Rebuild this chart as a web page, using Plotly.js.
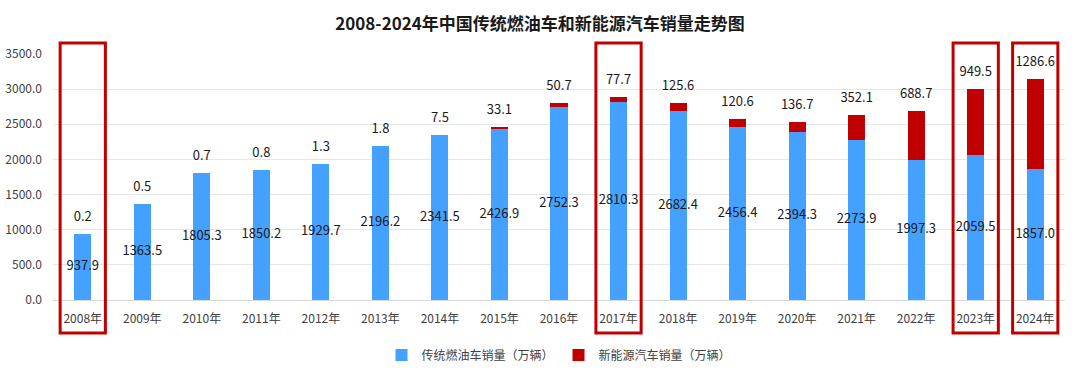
<!DOCTYPE html>
<html>
<head>
<meta charset="utf-8">
<script src="https://cdn.plot.ly/plotly-3.0.1.min.js"></script>
<style>html,body{margin:0;padding:0;background:#fff;}#chart{width:1080px;height:374px;}</style>
</head>
<body>
<div id="chart"></div>
<script>
const years = ["2008年","2009年","2010年","2011年","2012年","2013年","2014年","2015年","2016年","2017年","2018年","2019年","2020年","2021年","2022年","2023年","2024年"];
const fuelSales = [937.9,1363.5,1805.3,1850.2,1929.7,2196.2,2341.5,2426.9,2752.3,2810.3,2682.4,2456.4,2394.3,2273.9,1997.3,2059.5,1857.0];
const nevSales = [0.2,0.5,0.7,0.8,1.3,1.8,7.5,33.1,50.7,77.7,125.6,120.6,136.7,352.1,688.7,949.5,1286.6];
const highlightYears = ["2008年","2017年","2023年","2024年"];

const fontFamily = '"Noto Sans CJK SC", "Microsoft YaHei", sans-serif';
const blue = '#45A1FF';
const red = '#C00000';

const totals = fuelSales.map((v, i) => v + nevSales[i]);

const traces = [
  {
    type: 'bar', name: '传统燃油车销量（万辆）', x: years, y: fuelSales,
    marker: {color: blue}, hoverinfo: 'x+y'
  },
  {
    type: 'bar', name: '新能源汽车销量（万辆）', x: years, y: nevSales,
    marker: {color: red}, hoverinfo: 'x+y'
  },
  {
    type: 'scatter', mode: 'text', x: years, y: fuelSales.map(v => v / 2),
    text: fuelSales.map(v => v.toFixed(1)), textposition: 'middle center',
    textfont: {family: fontFamily, size: 13, color: '#1a1a1a'},
    showlegend: false, hoverinfo: 'skip', cliponaxis: false
  },
  {
    type: 'scatter', mode: 'markers+text', x: years, y: totals,
    marker: {size: 14, opacity: 0},
    text: nevSales.map(v => v.toFixed(1)), textposition: 'top center',
    textfont: {family: fontFamily, size: 13, color: '#1a1a1a'},
    showlegend: false, hoverinfo: 'skip', cliponaxis: false
  }
];

const shapes = highlightYears.map(yr => {
  const i = years.indexOf(yr);
  return {
    type: 'rect', xref: 'x', yref: 'paper',
    x0: i - 0.38, x1: i + 0.38, y0: -0.134, y1: 1.045,
    line: {color: red, width: 3}, fillcolor: 'rgba(0,0,0,0)'
  };
});

const layout = {
  width: 1080, height: 374,
  margin: {l: 53, r: 15, t: 54, b: 74},
  paper_bgcolor: '#fff', plot_bgcolor: '#fff',
  font: {family: fontFamily, color: '#404040'},
  title: {
    text: '<b>2008-2024年中国传统燃油车和新能源汽车销量走势图</b>',
    font: {family: fontFamily, size: 17, color: '#1a1a1a'},
    x: 0.5, xanchor: 'center', y: 0.935, yanchor: 'middle'
  },
  barmode: 'stack', bargap: 0.714,
  xaxis: {
    type: 'category', range: [-0.5, years.length - 0.5],
    tickfont: {size: 12, color: '#404040'},
    showline: true, linecolor: '#D9D9D9', linewidth: 1,
    showgrid: false, ticks: '', ticklabelstandoff: 8, automargin: false
  },
  yaxis: {
    range: [0, 3500], dtick: 500, tickformat: '.1f',
    tickfont: {size: 12, color: '#404040'},
    showgrid: true, gridcolor: '#E6E6E6', gridwidth: 1,
    zeroline: false, showline: false, ticks: '', ticklabelstandoff: 10, automargin: false
  },
  legend: {
    orientation: 'h', x: 0.5, xanchor: 'center',
    yref: 'container', y: 0.051, yanchor: 'middle',
    font: {size: 12, color: '#404040'}, traceorder: 'normal', itemwidth: 30
  },
  shapes: shapes,
  showlegend: true
};

Plotly.newPlot('chart', traces, layout, {displayModeBar: false, staticPlot: true});
</script>
</body>
</html>
